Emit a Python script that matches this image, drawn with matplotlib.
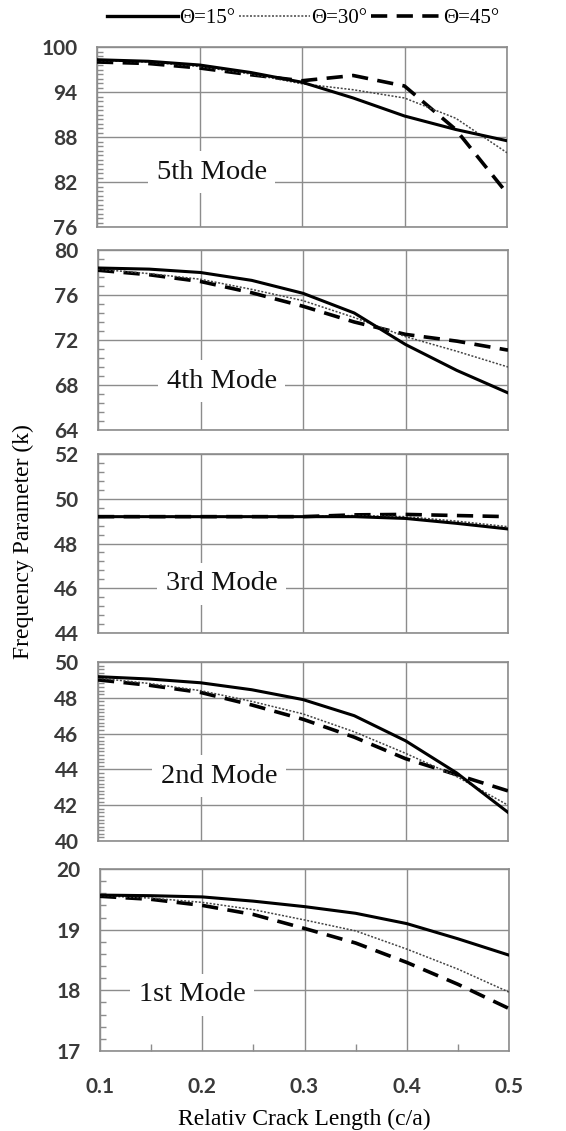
import matplotlib
matplotlib.use("Agg")
import numpy as np
import matplotlib.pyplot as plt
from matplotlib.ticker import FixedLocator
from matplotlib.lines import Line2D

x = [0.1, 0.15, 0.2, 0.25, 0.3, 0.35, 0.4, 0.45, 0.5]

# 5th mode
m5_15 = [98.3, 98.1, 97.6, 96.6, 95.3, 93.2, 90.8, 89.0, 87.5]
m5_30 = [98.2, 98.0, 97.4, 96.4, 95.1, 94.3, 93.2, 90.5, 85.9]
m5_45 = [98.0, 97.8, 97.2, 96.3, 95.5, 96.2, 94.8, 89.0, 80.5]
# 4th mode
m4_15 = [78.4, 78.3, 78.0, 77.3, 76.15, 74.4, 71.6, 69.3, 67.3]
m4_30 = [78.3, 77.9, 77.4, 76.5, 75.5, 74.0, 72.3, 71.0, 69.6]
m4_45 = [78.2, 77.8, 77.2, 76.2, 75.0, 73.6, 72.5, 71.9, 71.1]
# 3rd mode
m3_15 = [49.2, 49.2, 49.2, 49.2, 49.2, 49.2, 49.12, 48.9, 48.65]
m3_30 = [49.2, 49.2, 49.2, 49.2, 49.2, 49.25, 49.2, 49.0, 48.75]
m3_45 = [49.2, 49.2, 49.2, 49.2, 49.2, 49.28, 49.3, 49.25, 49.2]
# 2nd mode
m2_15 = [49.18, 49.05, 48.84, 48.45, 47.9, 47.0, 45.6, 43.8, 41.6]
m2_30 = [49.1, 48.8, 48.4, 47.8, 47.1, 46.1, 44.9, 43.6, 42.0]
m2_45 = [49.0, 48.7, 48.3, 47.6, 46.8, 45.8, 44.6, 43.7, 42.8]
# 1st mode
m1_15 = [19.57, 19.56, 19.54, 19.47, 19.38, 19.27, 19.1, 18.85, 18.58]
m1_30 = [19.56, 19.52, 19.45, 19.33, 19.16, 18.98, 18.68, 18.35, 17.97]
m1_45 = [19.55, 19.5, 19.4, 19.25, 19.02, 18.78, 18.46, 18.1, 17.7]

modes = ["5th Mode", "4th Mode", "3rd Mode", "2nd Mode", "1st Mode"]
series = [(m5_15, m5_30, m5_45), (m4_15, m4_30, m4_45), (m3_15, m3_30, m3_45),
          (m2_15, m2_30, m2_45), (m1_15, m1_30, m1_45)]
ylims = [(76, 100), (64, 80), (44, 52), (40, 50), (17, 20)]
ymajor = [6, 4, 2, 2, 1]
yminor = [0.6, 0.8, 0.4, 0.2, 0.2]
legend_labels = ["Θ=15°", "Θ=30°", "Θ=45°"]
x_ticks = [0.1, 0.2, 0.3, 0.4, 0.5]

W, H = 566, 1131
fig = plt.figure(figsize=(W / 100, H / 100), dpi=100)

# panel boxes in pixels: left, right, top, bottom
boxes = [(97, 507, 47, 227), (98, 508, 250, 430), (98, 508, 454, 633),
         (98, 508, 662, 841), (100, 509, 869, 1051)]
label_pos = [(0.28, 0.305), (0.302, 0.272), (0.302, 0.274), (0.295, 0.363), (0.225, 0.308)]

grid_c = "#8c8c8c"
tick_c = "#3a3a3a"
dash_style = (0, (4.5, 2.6))
dot_style = (0, (1.3, 1.1))

for i, (b, s) in enumerate(zip(boxes, series)):
    l, r, t, bt = b
    ax = fig.add_axes([l / W, (H - bt) / H, (r - l) / W, (bt - t) / H])
    lo, hi = ylims[i]
    ax.set_xlim(0.1, 0.5)
    ax.set_ylim(lo, hi)
    ax.yaxis.set_major_locator(FixedLocator(np.arange(lo, hi + 1e-9, ymajor[i])))
    ax.yaxis.set_minor_locator(FixedLocator(np.arange(lo, hi + 1e-9, yminor[i])))
    ax.xaxis.set_major_locator(FixedLocator(x_ticks))
    ax.grid(True, which="major", color=grid_c, linewidth=1.0)
    for sp in ax.spines.values():
        sp.set_color(grid_c)
        sp.set_linewidth(1.2)
    ax.tick_params(axis="y", which="major", length=0, pad=14, labelsize=15,
                   labelcolor=tick_c)
    ax.tick_params(axis="y", which="minor", direction="in", length=4,
                   color=grid_c, width=1)
    ax.tick_params(axis="y", which="both", right=False)
    ax.set_yticklabels([f"{v:g}" for v in np.arange(lo, hi + 1e-9, ymajor[i])],
                       fontfamily="Lato", fontweight="bold")
    if i < 4:
        ax.tick_params(axis="x", which="both", bottom=False, labelbottom=False)
    else:
        ax.xaxis.set_minor_locator(FixedLocator([0.15, 0.25, 0.35, 0.45]))
        ax.tick_params(axis="x", which="major", length=0, pad=19, labelsize=15,
                       labelcolor=tick_c)
        ax.tick_params(axis="x", which="minor", direction="in", length=5,
                       color=grid_c, width=1)
        ax.set_xticklabels(["0.1", "0.2", "0.3", "0.4", "0.5"], fontfamily="Lato",
                           fontweight="bold")
        ax.set_xlabel("Relativ Crack Length (c/a)", fontfamily="Liberation Serif",
                      fontsize=17, labelpad=8)
    ax.plot(x, s[2], color="black", linewidth=2.6, linestyle=dash_style, zorder=3)
    ax.plot(x, s[1], color="#444444", linewidth=1.1, linestyle=dot_style, zorder=4)
    ax.plot(x, s[0], color="black", linewidth=2.2, linestyle="-", zorder=5)
    ax.text(label_pos[i][0], label_pos[i][1], modes[i], transform=ax.transAxes,
            ha="center", va="center", fontsize=20.5, fontfamily="Liberation Serif",
            color="#111111", zorder=6,
            bbox=dict(boxstyle="square,pad=0.3", facecolor="white", edgecolor="none"))

fig.text(23 / W, 1 - 542 / H, "Frequency Parameter (k)", rotation=90,
         ha="center", va="center", fontsize=17, fontfamily="Liberation Serif")

handles = [Line2D([], [], color="black", linewidth=2.4, linestyle="-"),
           Line2D([], [], color="#444444", linewidth=1.1, linestyle=dot_style),
           Line2D([], [], color="black", linewidth=2.6, linestyle=dash_style)]
fig.legend(handles, legend_labels, loc="center", bbox_to_anchor=(303 / W, 1 - 18 / H),
           ncol=3, frameon=False, handlelength=3.4, handletextpad=0.05,
           columnspacing=0.2, prop={"family": "Liberation Serif", "size": 15})

fig.savefig("out.png", dpi=100)
